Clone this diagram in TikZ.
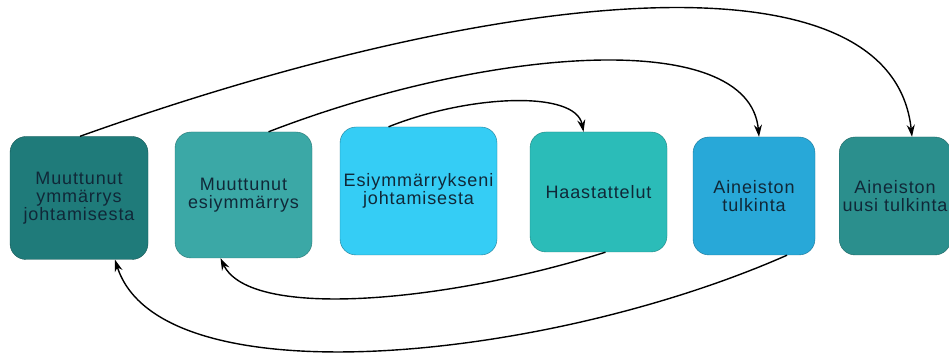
\documentclass[tikz,border=0pt]{standalone}
\usepackage{fontspec}
\usepackage{tikz}
\usepackage{xcolor}
\usetikzlibrary{arrows.meta,positioning}
\newfontfamily\boxfont[LetterSpace=5]{Liberation Sans}
\definecolor{tealdark}{HTML}{1F7B7A}
\definecolor{tealmid}{HTML}{3BA8A6}
\definecolor{skylight}{HTML}{35CDF5}
\definecolor{turq}{HTML}{2BBCB8}
\definecolor{oceanblue}{HTML}{28A8D8}
\definecolor{tealdeep}{HTML}{2B8F8D}
\definecolor{labeltext}{HTML}{102838}
\tikzset{
    %Define style for the phase boxes
    phasebox/.style={
           rectangle,
           rounded corners=16pt,
           draw=black!60, thin,
           minimum height=120pt,
           minimum width=137pt,
           align=center,
           text=labeltext,
           font=\boxfont\fontsize{18}{18}\selectfont},
    phaseboxw/.style={
           phasebox,
           minimum width=157pt,
           minimum height=128pt},
    %Define style for the feedback arrows
    loopflow/.style={
           draw=black, line width=1.4pt,
           -{Stealth[length=12pt,width=8pt]}}
}
\def\pictwidth{949}
\def\pictheight{361}

\begin{document}
\begin{tikzpicture}[x=1pt, y=1pt]
\useasboundingbox (0,0) rectangle (\pictwidth,\pictheight);
\node[phasebox, fill=tealdark, draw=tealdark!70!black, minimum width=138pt, minimum height=123pt] (MUYJ) at (79,163) {Muuttunut\\ymmärrys\\johtamisesta};
\node[phasebox, fill=tealmid, draw=tealmid!70!black, minimum height=126pt] (MUES) at (243.5,166) {Muuttunut\\esiymmärrys};
\node[phaseboxw, fill=skylight, draw=skylight!60!black] (ESJO) at (418.5,170) {Esiymmärrykseni\\johtamisesta};
\node[phasebox, fill=turq, draw=turq!70!black] (HAAS) at (598.5,169) {Haastattelut};
\node[phasebox, fill=oceanblue, draw=oceanblue!70!black, minimum width=122pt, minimum height=118pt] (AITU) at (754,165) {Aineiston\\tulkinta};
\node[phasebox, fill=tealdeep, draw=tealdeep!70!black, minimum width=106pt, minimum height=118pt] (AIUT) at (895,165) {Aineiston\\uusi tulkinta};
%arrows over the boxes
\draw[loopflow] ([xshift=1pt]MUYJ.north) .. controls +(420,150) and +(-20,190) .. ([xshift=17pt]AIUT.north);
\draw[loopflow] ([xshift=25pt]MUES.north) .. controls +(220,85) and +(-10,110) .. ([xshift=5pt]AITU.north);
\draw[loopflow] ([xshift=-30pt]ESJO.north) .. controls +(80,32) and +(-8,42) .. ([xshift=-15pt]HAAS.north);
%arrows under the boxes
\draw[loopflow] ([xshift=7pt]HAAS.south) .. controls +(-155,-49) and +(30,-63) .. ([xshift=-23pt]MUES.south);
\draw[loopflow] ([xshift=33pt]AITU.south) .. controls +(-240,-106) and +(45,-141) .. ([xshift=36pt]MUYJ.south);
\end{tikzpicture}
\end{document}
